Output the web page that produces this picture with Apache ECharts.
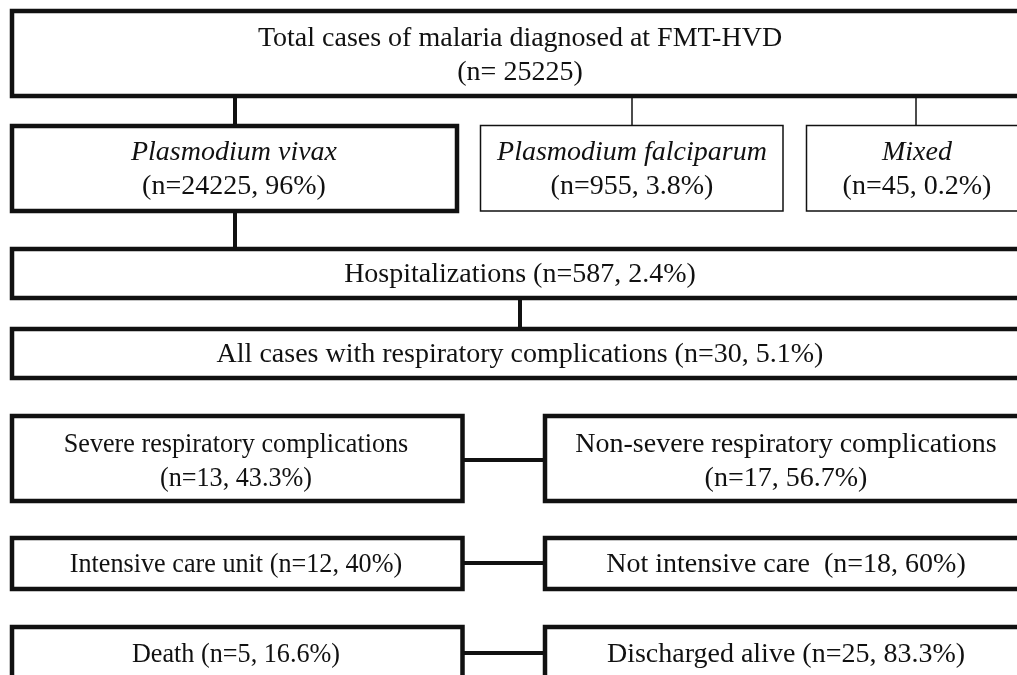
<!DOCTYPE html>
<html>
<head>
<meta charset="utf-8">
<script src="https://cdn.jsdelivr.net/npm/echarts@6/dist/echarts.min.js"></script>
<style>
html,body{margin:0;padding:0;background:#fff;}
#chart{width:1017px;height:675px;}
</style>
</head>
<body>
<div id="chart"></div>
<script>
// ---- data ----
const boxNames = [
  'Total cases of malaria diagnosed at FMT-HVD',
  'Plasmodium vivax',
  'Plasmodium falciparum',
  'Mixed',
  'Hospitalizations',
  'All cases with respiratory complications',
  'Severe respiratory complications',
  'Non-severe respiratory complications',
  'Intensive care unit',
  'Not intensive care ',
  'Death',
  'Discharged alive'
];
const boxCounts = [25225, 24225, 955, 45, 587, 30, 13, 17, 12, 18, 5, 25];
const boxPercents = [null, '96%', '3.8%', '0.2%', '2.4%', '5.1%', '43.3%', '56.7%', '40%', '60%', '16.6%', '83.3%'];
// links: [from, to]
const links = [[0,1],[0,2],[0,3],[1,4],[4,5],[6,7],[8,9],[10,11]];

// ---- layout (positions/styles, separate from data) ----
// [x0, y0, x1, y1, lineWidth, textStyle, textScaleX]
const boxLayout = [
  [12, 11, 1030, 96, 4.5, 'total', 1],
  [12, 126, 457, 211, 4.5, 'twoItalic', 1],
  [480.5, 125.5, 783, 211, 1.5, 'twoItalic', 1],
  [806.5, 125.5, 1030, 211, 1.5, 'twoItalic', 1],
  [12, 249, 1030, 298, 4.5, 'one', 1],
  [12, 329, 1030, 378, 4.5, 'one', 1],
  [12, 416, 462.5, 501, 4.5, 'two', 0.935],
  [545, 416, 1030, 501, 4.5, 'two', 1],
  [12, 538, 462.5, 589, 4.5, 'one', 0.935],
  [545, 538, 1030, 589, 4.5, 'one', 1],
  [12, 627, 462.5, 682, 4.5, 'one', 0.935],
  [545, 627, 1030, 682, 4.5, 'one', 1]
];
// connector geometry per link: [x0,y0,x1,y1,lineWidth]
const linkLayout = [
  [235, 96, 235, 126, 4],
  [632, 96, 632, 125.5, 1.5],
  [916, 96, 916, 125.5, 1.5],
  [235, 211, 235, 249, 4],
  [520, 298, 520, 329, 4],
  [462.5, 460, 545, 460, 4],
  [462.5, 563, 545, 563, 4],
  [462.5, 653, 545, 653, 4]
];
const textCenters = [
  [520, 56], [234, 170], [632, 170], [917, 170],
  [520, 275], [520, 355], [236, 461.5], [786, 461.5],
  [236, 564.5], [786, 564.5], [236, 654.5], [786, 654.5]
];

function boxText(i) {
  const st = boxLayout[i][5];
  const pct = boxPercents[i];
  if (st === 'total') return '{n|' + boxNames[i] + '}\n{n|(n= ' + boxCounts[i] + ')}';
  if (st === 'twoItalic') return '{i|' + boxNames[i] + '}\n{n|(n=' + boxCounts[i] + ', ' + pct + ')}';
  if (st === 'two') return '{n|' + boxNames[i] + '}\n{n|(n=' + boxCounts[i] + ', ' + pct + ')}';
  return '{n|' + boxNames[i] + ' (n=' + boxCounts[i] + ', ' + pct + ')}';
}

const FONT = "'Liberation Serif', 'Times New Roman', serif";
const FS = 28;
const LH = 34;
const INK = '#111';

const chart = echarts.init(document.getElementById('chart'), null, {renderer: 'canvas'});
chart.setOption({
  backgroundColor: '#fff',
  animation: false,
  grid: {left: 0, right: 0, top: 0, bottom: 0},
  xAxis: {type: 'value', min: 0, max: 1017, show: false},
  yAxis: {type: 'value', min: 0, max: 675, inverse: true, show: false},
  series: [
    {
      type: 'custom',
      name: 'links',
      clip: false,
      silent: true,
      data: links.map((l, k) => linkLayout[k].slice(0, 4)),
      renderItem: function (params, api) {
        const k = params.dataIndex;
        const a = api.coord([api.value(0), api.value(1)]);
        const b = api.coord([api.value(2), api.value(3)]);
        return {
          type: 'line',
          shape: {x1: a[0], y1: a[1], x2: b[0], y2: b[1]},
          style: {stroke: INK, lineWidth: linkLayout[k][4]}
        };
      }
    },
    {
      type: 'custom',
      name: 'boxes',
      clip: false,
      silent: true,
      data: boxNames.map((n, i) => boxLayout[i].slice(0, 4)),
      renderItem: function (params, api) {
        const i = params.dataIndex;
        const a = api.coord([api.value(0), api.value(1)]);
        const b = api.coord([api.value(2), api.value(3)]);
        const t = api.coord(textCenters[i]);
        return {
          type: 'group',
          children: [
            {
              type: 'rect',
              shape: {x: a[0], y: a[1], width: b[0] - a[0], height: b[1] - a[1]},
              style: {fill: '#fff', stroke: INK, lineWidth: boxLayout[i][4]}
            },
            {
              type: 'text',
              x: t[0], y: t[1],
              scaleX: boxLayout[i][6],
              style: {
                x: 0, y: 0,
                text: boxText(i),
                align: 'center', verticalAlign: 'middle',
                fill: INK,
                fontFamily: FONT, fontSize: FS, lineHeight: LH,
                rich: {
                  n: {fontFamily: FONT, fontSize: FS, lineHeight: LH, fill: INK},
                  i: {fontFamily: FONT, fontSize: FS, lineHeight: LH, fontStyle: 'italic', fill: INK}
                }
              }
            }
          ]
        };
      }
    }
  ]
});
</script>
</body>
</html>
